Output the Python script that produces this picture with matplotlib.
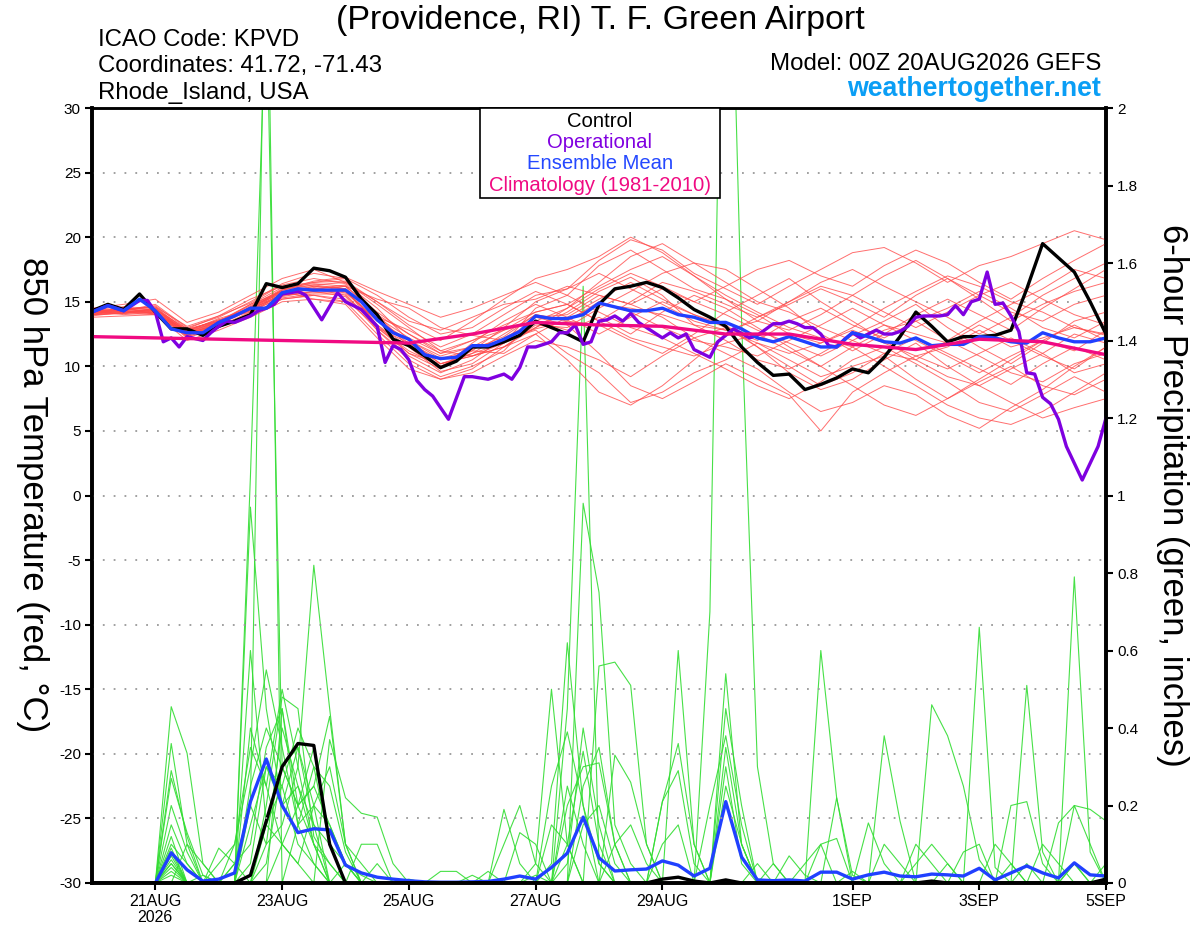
import matplotlib
matplotlib.use("Agg")
import matplotlib.pyplot as plt
from matplotlib.patches import Rectangle

plt.rcParams['font.family'] = ['Liberation Sans', 'DejaVu Sans']

# ---------------- data ----------------
hours6 = list(range(0, 385, 6))        # 6-hourly forecast hours
hours12 = list(range(0, 385, 12))      # 12-hourly forecast hours
hours24 = list(range(0, 385, 24))      # daily

tick_hours = [24, 72, 120, 168, 216, 288, 336, 384]
tick_labels = ["21AUG\n2026", "23AUG", "25AUG", "27AUG", "29AUG", "1SEP", "3SEP", "5SEP"]

temp_ticks = [-30, -25, -20, -15, -10, -5, 0, 5, 10, 15, 20, 25, 30]
precip_ticks = [0, 0.2, 0.4, 0.6, 0.8, 1.0, 1.2, 1.4, 1.6, 1.8, 2.0]
precip_tick_labels = ["0", "0.2", "0.4", "0.6", "0.8", "1", "1.2", "1.4", "1.6", "1.8", "2"]

control_temp = [14.3, 14.8, 14.4, 15.6, 14.2, 12.9, 12.9, 12.4, 13.1, 13.5, 14.0, 16.4, 16.1, 16.4, 17.6, 17.4,
                16.9, 15.2, 14.0, 12.1, 11.6, 10.8, 9.9, 10.4, 11.5, 11.5, 11.9, 12.4, 13.5, 13.0, 12.5, 11.9,
                14.8, 16.0, 16.2, 16.5, 16.1, 15.3, 14.4, 13.8, 13.1, 11.5, 10.3, 9.3, 9.4, 8.2, 8.6, 9.1,
                9.8, 9.5, 10.7, 12.3, 14.2, 13.1, 11.9, 12.3, 12.3, 12.4, 12.8, 16.0, 19.5, 18.4, 17.3, 15.0,
                12.5]

mean_temp = [14.2, 14.7, 14.3, 15.2, 14.3, 12.9, 12.6, 12.6, 13.4, 13.9, 14.5, 14.5, 15.7, 16.0, 15.9, 15.9,
             15.9, 15.0, 13.6, 12.6, 12.1, 10.9, 10.6, 10.7, 11.6, 11.6, 12.1, 12.7, 13.9, 13.7, 13.7, 14.0,
             14.9, 14.6, 14.3, 14.3, 14.5, 14.0, 13.8, 13.4, 13.4, 12.9, 12.2, 11.9, 12.3, 11.9, 11.5, 11.5,
             12.6, 12.3, 11.9, 11.8, 12.2, 11.6, 11.7, 11.7, 12.3, 12.2, 11.9, 11.8, 12.6, 12.2, 11.9, 11.9,
             12.2]

op_hours = [0, 6, 12, 18, 21, 24, 27, 30, 33, 36, 42, 45, 48, 51, 54, 60, 63, 66, 69, 72,
            78, 81, 87, 93, 96, 102, 108, 111, 114, 117, 120, 123, 126, 129, 135, 141, 144, 150, 156, 159,
            162, 165, 168, 174, 177, 180, 183, 186, 189, 192, 195, 198, 201, 204, 207, 210, 216, 219, 222, 225,
            228, 234, 237, 243, 249, 252, 258, 261, 264, 267, 270, 273, 276, 279, 282, 285, 288, 291, 294, 297,
            300, 303, 306, 309, 312, 315, 318, 321, 324, 327, 330, 333, 336, 339, 342, 345, 348, 351, 354, 357,
            360, 363, 366, 369, 375, 381, 384]
op_temp = [14.2, 14.7, 14.3, 15.1, 15.1, 14.2, 11.9, 12.2, 11.5, 12.3, 12.0, 12.6, 13.1, 13.5, 13.4, 13.9, 14.3, 14.5, 14.8, 15.6,
           15.8, 15.5, 13.6, 15.7, 15.0, 14.4, 13.1, 10.3, 11.6, 11.3, 10.5, 8.9, 8.2, 7.7, 5.9, 9.2, 9.2, 9.0, 9.4, 9.0,
           9.9, 11.5, 11.5, 11.9, 12.6, 12.6, 13.2, 11.7, 11.9, 13.5, 13.6, 13.9, 13.5, 14.1, 13.4, 13.0, 12.2, 12.6, 12.2, 12.5,
           11.3, 10.7, 11.9, 12.9, 12.2, 12.4, 13.3, 13.3, 13.5, 13.3, 13.0, 13.0, 12.5, 11.6, 11.5, 12.1, 12.6, 12.2, 12.5, 12.8,
           12.5, 12.5, 12.7, 13.1, 13.8, 13.9, 13.9, 13.9, 14.0, 14.7, 14.0, 15.0, 15.2, 17.3, 14.8, 14.9, 13.9, 12.7, 9.5, 9.4,
           7.6, 7.1, 5.9, 3.8, 1.2, 3.8, 6.0]

clim_temp = [12.3, 12.2, 12.1, 12.0, 11.9, 11.8, 12.5, 13.4, 13.2, 13.1, 12.5, 12.5, 11.7, 11.3, 12.1, 11.9, 10.9]

# ensemble members, 850 hPa temperature, 12-hourly
ens_temp = [
    [14.0, 14.1, 14.5, 12.4, 13.2, 14.6, 16.0, 16.3, 16.5, 14.8, 13.0, 11.2, 10.8, 11.5, 13.0, 14.2, 15.8, 16.9, 15.5, 13.2, 12.0, 10.5, 9.8, 11.0, 12.4, 13.5, 14.8, 13.0, 11.5, 10.2, 11.8, 13.5, 14.2],
    [14.4, 14.6, 14.0, 12.8, 13.6, 14.2, 15.4, 15.8, 16.2, 15.2, 14.5, 13.0, 12.4, 12.0, 12.9, 13.5, 13.2, 12.0, 11.0, 12.5, 14.2, 15.5, 16.8, 15.0, 13.5, 12.0, 10.5, 9.2, 8.5, 9.8, 11.0, 12.5, 11.8],
    [14.1, 14.3, 14.8, 13.0, 13.8, 15.0, 16.4, 17.2, 16.8, 14.0, 11.5, 9.6, 10.2, 11.8, 14.5, 15.5, 17.8, 19.0, 17.5, 16.0, 15.2, 14.0, 12.5, 11.8, 13.0, 14.5, 15.8, 17.0, 16.2, 15.0, 14.2, 13.0, 12.5],
    [14.3, 14.0, 14.2, 12.2, 13.0, 14.0, 15.2, 15.5, 15.0, 12.5, 10.2, 9.0, 9.5, 10.8, 12.0, 11.5, 10.5, 9.2, 10.8, 12.2, 13.0, 11.5, 10.0, 8.5, 9.5, 11.0, 12.2, 11.0, 9.8, 8.6, 10.2, 11.5, 10.5],
    [14.0, 14.5, 14.4, 12.9, 13.5, 14.8, 15.8, 16.0, 15.5, 13.0, 11.8, 10.5, 11.2, 13.0, 15.0, 16.0, 17.2, 16.0, 14.8, 13.5, 12.8, 13.5, 15.0, 16.5, 17.5, 16.2, 15.0, 13.8, 12.5, 13.8, 15.5, 16.8, 18.0],
    [14.5, 14.2, 14.1, 12.5, 13.3, 14.5, 15.9, 16.5, 16.8, 15.5, 13.8, 12.5, 13.0, 14.5, 15.8, 14.8, 13.5, 12.2, 11.5, 10.8, 11.8, 12.5, 11.2, 10.0, 11.5, 12.8, 13.5, 12.0, 10.8, 9.5, 8.8, 10.2, 11.0],
    [14.2, 14.4, 14.6, 12.7, 13.7, 14.4, 15.5, 15.7, 15.8, 13.5, 12.0, 10.2, 10.8, 11.5, 13.2, 13.0, 14.5, 15.8, 17.2, 18.0, 16.5, 15.0, 14.2, 13.0, 12.0, 11.0, 10.5, 12.0, 13.5, 14.8, 16.0, 17.5, 16.8],
    [13.9, 14.2, 14.3, 12.3, 13.1, 14.2, 15.6, 16.2, 16.0, 12.8, 10.5, 9.2, 10.0, 11.2, 13.8, 13.2, 11.0, 8.5, 7.5, 8.8, 10.2, 9.0, 7.8, 5.0, 8.0, 9.5, 10.8, 9.8, 11.0, 12.2, 11.0, 9.5, 10.2],
    [14.3, 14.4, 14.2, 12.6, 13.4, 14.8, 16.1, 16.4, 16.2, 14.2, 12.5, 11.0, 12.0, 13.2, 14.2, 14.8, 16.2, 17.5, 18.5, 17.0, 15.2, 13.5, 12.8, 14.0, 15.5, 17.0, 18.2, 16.8, 15.5, 14.2, 13.5, 14.8, 15.5],
    [14.1, 14.6, 14.5, 12.8, 13.6, 14.3, 15.3, 15.6, 15.6, 13.0, 11.2, 10.0, 11.0, 12.5, 14.0, 13.5, 15.0, 14.2, 13.0, 12.0, 11.5, 10.8, 12.0, 13.2, 14.5, 13.2, 12.0, 10.8, 9.5, 10.8, 12.0, 11.2, 12.8],
    [14.2, 14.1, 14.0, 12.4, 13.2, 14.6, 15.8, 15.2, 15.0, 13.8, 12.8, 11.5, 12.5, 14.0, 15.5, 16.0, 18.2, 19.8, 19.0, 17.2, 16.0, 14.8, 16.2, 17.5, 18.8, 19.2, 18.0, 16.5, 17.8, 18.5, 19.5, 20.5, 19.8],
    [14.4, 14.3, 14.7, 12.9, 13.9, 14.9, 16.3, 16.8, 16.4, 14.5, 12.0, 10.8, 11.5, 12.0, 12.8, 11.0, 9.5, 7.2, 8.0, 9.5, 10.5, 11.8, 10.5, 9.2, 10.0, 10.8, 9.0, 7.5, 8.8, 10.0, 8.5, 7.8, 9.0],
    [14.0, 14.3, 14.2, 12.5, 13.3, 14.4, 15.6, 16.0, 16.2, 13.2, 11.0, 9.8, 11.8, 13.5, 14.8, 13.8, 12.5, 13.8, 15.0, 14.0, 13.0, 12.0, 13.5, 14.5, 13.2, 12.2, 13.5, 14.5, 15.8, 14.5, 13.0, 12.2, 13.5],
    [14.2, 14.5, 14.4, 12.6, 13.5, 14.7, 15.9, 16.6, 16.9, 15.8, 14.8, 13.8, 14.5, 15.5, 16.5, 15.5, 14.2, 13.0, 12.2, 11.0, 9.8, 8.5, 7.5, 8.8, 10.5, 11.5, 10.2, 8.8, 7.2, 6.5, 7.8, 9.2, 8.0],
    [14.1, 14.2, 14.4, 12.7, 13.4, 14.3, 15.5, 15.8, 15.4, 12.8, 10.8, 9.5, 10.5, 12.2, 13.5, 14.5, 16.5, 18.5, 19.5, 18.0, 17.5, 16.0, 14.5, 12.5, 11.2, 12.5, 14.0, 15.2, 14.0, 12.8, 14.5, 16.0, 17.5],
    [14.3, 14.4, 14.3, 12.5, 13.4, 14.4, 15.6, 16.0, 16.3, 13.8, 12.2, 11.0, 11.5, 12.8, 13.5, 12.8, 13.8, 12.5, 14.2, 15.5, 14.5, 13.0, 11.5, 10.0, 8.5, 7.0, 6.2, 7.5, 9.0, 10.5, 12.0, 13.2, 12.0],
    [14.2, 14.3, 14.1, 12.8, 13.5, 14.5, 15.7, 16.1, 15.8, 13.5, 11.8, 10.2, 11.0, 11.8, 13.8, 14.0, 15.5, 14.8, 16.0, 15.0, 14.0, 12.8, 11.8, 10.8, 12.0, 13.2, 12.5, 11.8, 13.2, 12.0, 10.8, 9.8, 11.5],
    [14.0, 14.1, 14.5, 12.6, 13.2, 14.4, 15.8, 16.2, 16.0, 13.2, 11.5, 10.0, 11.2, 11.0, 12.5, 13.8, 15.2, 16.5, 15.2, 14.0, 13.2, 11.5, 9.5, 8.2, 9.0, 10.5, 11.8, 10.0, 8.5, 7.2, 6.0, 6.8, 7.5],
    [14.3, 14.2, 14.2, 12.4, 13.3, 14.5, 15.9, 16.3, 16.0, 14.0, 12.5, 11.2, 12.0, 12.8, 14.2, 14.8, 13.5, 15.0, 16.5, 15.8, 14.8, 13.8, 15.0, 16.2, 15.5, 14.2, 13.0, 14.2, 15.5, 16.5, 15.2, 14.0, 13.2],
    [14.2, 14.4, 14.3, 12.7, 13.5, 14.6, 15.7, 15.9, 15.7, 13.6, 12.0, 10.6, 11.3, 12.3, 14.0, 13.6, 14.8, 14.5, 14.0, 13.2, 12.8, 11.8, 11.0, 11.8, 12.8, 11.8, 10.8, 11.5, 12.8, 11.5, 12.2, 13.0, 12.4],
    [14.5, 14.8, 15.2, 13.4, 14.2, 15.5, 16.8, 17.5, 16.5, 15.0, 13.2, 12.0, 13.5, 15.2, 16.8, 17.5, 18.5, 20.0, 18.8, 17.0, 15.5, 14.2, 13.0, 12.2, 11.5, 10.0, 8.5, 7.0, 6.0, 5.5, 6.5, 8.0, 9.5],
    [13.8, 13.9, 14.0, 12.0, 12.8, 13.8, 15.0, 15.2, 14.8, 12.2, 9.8, 9.0, 9.8, 11.5, 12.5, 10.5, 8.0, 7.0, 8.5, 10.5, 12.5, 13.8, 14.8, 16.0, 15.0, 13.8, 15.5, 16.8, 15.2, 13.5, 14.8, 15.8, 16.5],
    [14.2, 14.4, 14.6, 13.1, 13.9, 15.2, 16.2, 16.5, 16.6, 15.0, 13.5, 12.8, 13.8, 14.8, 15.2, 16.2, 15.5, 14.8, 13.8, 12.2, 11.0, 9.8, 8.0, 6.5, 7.2, 8.5, 7.8, 6.2, 5.2, 6.8, 8.2, 10.0, 11.5],
    [14.0, 14.2, 14.1, 12.3, 13.0, 14.1, 15.2, 15.5, 15.2, 13.0, 11.0, 10.2, 10.8, 11.8, 13.0, 14.5, 16.0, 17.2, 16.2, 15.0, 16.2, 17.5, 18.2, 17.0, 16.2, 17.8, 19.0, 18.0, 16.5, 15.2, 16.8, 18.2, 19.5],
]

control_precip = [0, 0, 0, 0, 0, 0, 0, 0,
                  0, 0, .02, .16, .30, .36, .355, .10,
                  0, 0, 0, 0, 0, 0, 0, 0,
                  0, 0, 0, 0, 0, 0, 0, 0,
                  0, 0, 0, 0, .01, .015, .005, 0,
                  .008, 0, 0, 0, 0, 0, 0, 0,
                  0, 0, 0, 0, 0, .005, 0, 0,
                  0, 0, 0, 0, 0, 0, 0, 0,
                  .01]

mean_precip = [0, 0, 0, 0, 0, .078, .034, .005,
               .01, .026, .21, .32, .20, .13, .14, .137,
               .046, .026, .015, .01, .006, .003, .002, .002,
               .003, .004, .01, .018, .01, .04, .077, .17,
               .065, .031, .034, .036, .057, .046, .018, .038,
               .21, .067, .008, .006, .008, .005, .028, .028,
               .01, .021, .028, .018, .016, .023, .021, .018,
               .038, .008, .026, .044, .026, .013, .052, .021,
               .018]

# ensemble members, 6-hour precipitation (inches)
ens_precip = [
    [0, 0, 0, 0, 0, .455, .335, .05, 0, 0, .15, .3, .25, .1, .05, 0,
     0, 0, 0, 0, 0, 0, 0, 0, 0, 0, .19, .05, 0, 0, .1, .34,
     .1, 0, 0, 0, 0, 0, 0, 0, 0, 0, 0, 0, 0, 0, .6, .22,
     0, 0, 0, 0, 0, 0, 0, 0, 0, 0, 0, 0, 0, 0, .05, 0, 0],
    [0, 0, 0, 0, 0, .36, .1, 0, 0, .05, .2, 2.6, 0, .15, .3, .1,
     0, 0, 0, 0, 0, 0, 0, 0, 0, 0, 0, 0, 0, .05, .62, .2,
     .05, 0, 0, 0, 0, 0, 0, 0, 0, 0, 0, 0, 0, 0, 0, 0,
     0, 0, .38, .16, 0, 0, 0, 0, 0, 0, 0, .05, 0, 0, 0, 0, 0],
    [0, 0, 0, 0, 0, .29, .12, 0, 0, 0, 1.05, 2.3, .3, .2, .1, .05,
     0, 0, 0, 0, 0, 0, 0, 0, 0, 0, 0, 0, 0, 0, 0, 0,
     0, 0, 0, 0, .21, .36, .1, 0, 0, 0, 0, 0, 0, 0, 0, 0,
     0, 0, 0, 0, 0, .46, .38, .25, .06, 0, 0, 0, 0, 0, 0, 0, 0],
    [0, 0, 0, 0, 0, .27, .13, .02, 0, 0, .97, .45, .2, .35, .15, 0,
     0, 0, 0, 0, 0, 0, 0, 0, 0, 0, 0, 0, 0, 0, .45, 1.54,
     .05, 0, 0, 0, 0, 0, 0, 0, 0, 0, 0, 0, 0, 0, 0, 0,
     0, 0, 0, 0, 0, 0, 0, 0, .66, .04, 0, 0, 0, 0, 0, 0, 0],
    [0, 0, 0, 0, 0, .1, .05, 0, .09, .05, 0, .2, .48, .45, .12, .05,
     0, 0, 0, 0, 0, 0, 0, 0, 0, 0, 0, 0, 0, 0, 0, .98,
     .75, .15, .05, 0, 0, 0, 0, 0, 0, 0, 0, 0, 0, 0, 0, 0,
     0, 0, 0, 0, 0, 0, 0, 0, 0, 0, 0, .51, .08, 0, 0, 0, 0],
    [0, 0, 0, 0, 0, .08, 0, 0, 0, 0, 0, 0, .45, .2, .25, .43,
     .1, 0, 0, 0, 0, 0, 0, 0, 0, 0, 0, 0, .05, .5, .1, 0,
     0, 0, 0, 0, 0, 0, 0, .7, 3.0, 1.45, .3, .05, 0, 0, 0, 0,
     0, 0, 0, 0, 0, 0, 0, 0, 0, 0, 0, 0, 0, 0, .79, .08, 0],
    [0, 0, 0, 0, 0, .06, 0, 0, 0, 0, 0, .1, .15, .3, .82, .45,
     .1, 0, 0, 0, 0, 0, 0, 0, 0, 0, 0, 0, 0, 0, 0, 0,
     .56, .57, .51, .1, 0, 0, 0, 0, 0, 0, 0, 0, 0, 0, 0, .22,
     .02, 0, 0, 0, 0, 0, 0, 0, 0, 0, 0, 0, 0, .155, .2, .19, .16],
    [0, 0, 0, 0, 0, .05, 0, 0, 0, .1, .35, .25, .1, .05, 0, .37,
     .22, .18, .17, .05, 0, 0, 0, 0, 0, 0, 0, 0, 0, 0, 0, 0,
     0, 0, 0, 0, 0, .6, .1, 0, 0, 0, 0, 0, 0, 0, 0, 0,
     0, .155, .05, 0, 0, 0, 0, 0, 0, 0, 0, 0, 0, 0, 0, 0, 0],
    [0, 0, 0, 0, 0, .12, 0, 0, 0, 0, .25, .4, .3, .2, .35, .1,
     0, 0, 0, 0, 0, 0, 0, 0, 0, 0, .1, .2, .05, 0, 0, 0,
     0, 0, 0, 0, 0, 0, 0, 0, .54, .1, 0, 0, 0, 0, 0, 0,
     0, 0, 0, 0, .1, .05, 0, 0, 0, 0, .2, .21, .05, 0, 0, 0, 0],
    [0, 0, 0, 0, 0, .07, 0, 0, .05, .1, .3, .55, .35, .15, .2, 0,
     0, .1, .1, 0, 0, 0, 0, 0, .02, 0, 0, 0, 0, .25, .39, .2,
     0, 0, 0, 0, 0, 0, 0, 0, .3, .05, 0, 0, .07, .02, 0, 0,
     0, 0, 0, 0, 0, 0, 0, 0, 0, 0, 0, 0, 0, 0, .05, 0, 0],
    [0, 0, 0, 0, 0, .03, 0, 0, 0, 0, .4, .25, .5, .3, .1, 0,
     .05, 0, 0, 0, 0, 0, .03, .03, 0, 0, 0, .13, .1, 0, 0, 0,
     0, .33, .26, .1, 0, 0, 0, 0, 0, 0, 0, 0, 0, 0, .1, .115,
     0, 0, 0, 0, 0, 0, .05, 0, 0, 0, 0, 0, 0, 0, 0, 0, 0],
    [0, 0, 0, 0, 0, .02, 0, 0, 0, .05, .1, .35, .45, .15, .05, 0,
     0, 0, 0, 0, 0, 0, 0, 0, 0, 0, 0, 0, 0, 0, .2, .3,
     .31, .1, 0, 0, .21, .29, .05, 0, 0, 0, 0, .05, 0, 0, 0, 0,
     0, 0, .1, .05, 0, 0, 0, 0, 0, 0, 0, 0, 0, 0, 0, 0, 0],
    [0, 0, 0, 0, 0, 0, .1, .05, 0, 0, 0, .15, .25, .4, .3, .25,
     .08, 0, 0, 0, 0, 0, 0, 0, 0, 0, 0, 0, 0, 0, 0, .15,
     .2, .05, 0, 0, 0, 0, 0, .2, .38, .15, 0, 0, 0, 0, 0, 0,
     0, 0, 0, 0, 0, 0, 0, .08, .1, 0, 0, 0, 0, 0, 0, 0, 0],
    [0, 0, 0, 0, 0, .05, 0, 0, 0, 0, .05, .3, .2, .25, .15, .1,
     .05, .02, 0, 0, 0, 0, 0, 0, 0, .03, 0, 0, 0, 0, .25, .1,
     0, 0, 0, 0, 0, 0, 0, 0, .25, .1, 0, 0, 0, 0, 0, 0,
     .03, 0, 0, 0, 0, 0, 0, 0, 0, 0, 0, 0, .1, .05, 0, 0, 0],
    [0, 0, 0, 0, 0, .04, 0, 0, 0, 0, .6, .15, .1, .05, .2, .15,
     .05, 0, 0, 0, 0, 0, 0, 0, 0, 0, 0, 0, 0, 0, 0, 0,
     0, .1, .15, .05, 0, 0, 0, 0, 0, 0, 0, 0, 0, .05, .1, 0,
     0, 0, 0, 0, 0, 0, 0, 0, 0, 0, .05, 0, 0, 0, 0, 0, .05],
    [0, 0, 0, 0, 0, .09, 0, .02, 0, 0, 0, .05, .3, .35, .2, .3,
     .1, .05, 0, 0, 0, 0, 0, 0, 0, 0, 0, 0, 0, .15, .1, 0,
     0, 0, 0, 0, 0, 0, 0, 0, .45, .2, 0, 0, 0, 0, 0, 0,
     0, 0, 0, 0, .05, .1, .05, 0, 0, 0, 0, 0, 0, 0, 0, 0, 0],
    [0, 0, 0, 0, 0, .15, .05, 0, 0, 0, .2, .1, .4, .25, .1, 0,
     0, 0, .05, 0, 0, 0, 0, 0, 0, 0, 0, 0, 0, 0, .05, .4,
     .15, 0, 0, 0, .1, .15, 0, 0, 0, 0, .05, 0, 0, 0, 0, 0,
     0, 0, 0, 0, 0, 0, 0, 0, 0, .1, .05, 0, 0, 0, 0, 0, 0],
    [0, 0, 0, 0, 0, .2, .08, 0, 0, 0, 0, 0, .1, .2, .25, .15,
     .05, 0, 0, 0, .01, 0, 0, 0, 0, 0, 0, 0, .02, 0, 0, .25,
     .35, .1, 0, 0, 0, 0, 0, 0, .35, .1, 0, 0, 0, 0, 0, 0,
     0, 0, 0, 0, 0, 0, 0, 0, 0, 0, 0, 0, 0, 0, .2, .1, 0],
]

# ---------------- figure ----------------
fig = plt.figure(figsize=(12, 9.27), dpi=100)
ax = fig.add_axes([92 / 1200, 44 / 927, 1014 / 1200, 775 / 927])
ax2 = ax.twinx()
ax.set_zorder(ax2.get_zorder() + 1)
ax.patch.set_visible(False)

# precipitation (right axis)
for m in ens_precip:
    ax2.plot(hours6, m, color='#33dd33', lw=0.8, alpha=0.9)
ax2.plot(hours6, mean_precip, color='#2040ff', lw=2.4)
ax2.plot(hours6, control_precip, color='black', lw=2.4)
ax2.set_ylim(0, 2)

# temperature (left axis)
for m in ens_temp:
    ax.plot(hours12, m, color='#ff4a4a', lw=0.7, alpha=0.8)
ax.plot(hours6, control_temp, color='black', lw=2.4)
ax.plot(op_hours, op_temp, color='#7f00e0', lw=2.4)
ax.plot(hours6, mean_temp, color='#2040ff', lw=2.4)
ax.plot(hours24, clim_temp, color='#f00a82', lw=2.4)
ax.set_ylim(-30, 30)
ax.set_xlim(0, 384)

ax.set_yticks(temp_ticks)
ax.set_yticklabels([str(t) for t in temp_ticks], fontsize=11)
ax.yaxis.grid(True, linestyle=(0, (1, 5)), color='#999999', lw=1.3)
ax.set_xticks(tick_hours)
ax.set_xticklabels(tick_labels, fontsize=11.5, linespacing=1.05)
ax.tick_params(axis='both', direction='out', length=5, width=1.5, pad=3)

ax2.set_yticks(precip_ticks)
ax2.set_yticklabels(precip_tick_labels, fontsize=11)
ax2.tick_params(axis='y', direction='out', length=5, width=1.5, pad=3)

for a in (ax, ax2):
    for side in ('left', 'right', 'bottom'):
        a.spines[side].set_linewidth(2.6)
    a.spines['top'].set_linewidth(1.8)

# legend box
ax.add_patch(Rectangle((0.3826, 0.884), 0.2364, 0.116, transform=ax.transAxes,
                       facecolor='white', edgecolor='black', lw=1.2, zorder=20, clip_on=False))
legend_items = [("Control", 'black'), ("Operational", '#8000e0'),
                ("Ensemble Mean", '#2448ff'), ("Climatology (1981-2010)", '#f00a82')]
for k, (txt, col) in enumerate(legend_items):
    ax.text(0.5008, 0.983 - k * 0.0275, txt, color=col, fontsize=14.6,
            ha='center', va='center', transform=ax.transAxes, zorder=21)

# header texts
fig.text(0.5, 1 - 20 / 927, "(Providence, RI) T. F. Green Airport", fontsize=24.5,
         ha='center', va='center')
fig.text(98 / 1200, 1 - 40 / 927, "ICAO Code: KPVD", fontsize=17.3, ha='left', va='center')
fig.text(98 / 1200, 1 - 66 / 927, "Coordinates: 41.72, -71.43", fontsize=17.3, ha='left', va='center')
fig.text(98 / 1200, 1 - 93 / 927, "Rhode_Island, USA", fontsize=17.3, ha='left', va='center')
fig.text(1101 / 1200, 1 - 64 / 927, "Model: 00Z 20AUG2026 GEFS", fontsize=17.3, ha='right', va='center')
fig.text(1101 / 1200, 1 - 89 / 927, "weathertogether.net", fontsize=19.3, fontweight='bold',
         color='#0a9ef5', ha='right', va='center')

# axis labels
fig.text(32 / 1200, 1 - 495 / 927, "850 hPa Temperature (red, °C)", fontsize=25,
         rotation=270, ha='center', va='center')
fig.text(1172 / 1200, 1 - 495 / 927, "6-hour Precipitation (green, inches)", fontsize=25,
         rotation=270, ha='center', va='center')

fig.savefig("out.png", dpi=100)
